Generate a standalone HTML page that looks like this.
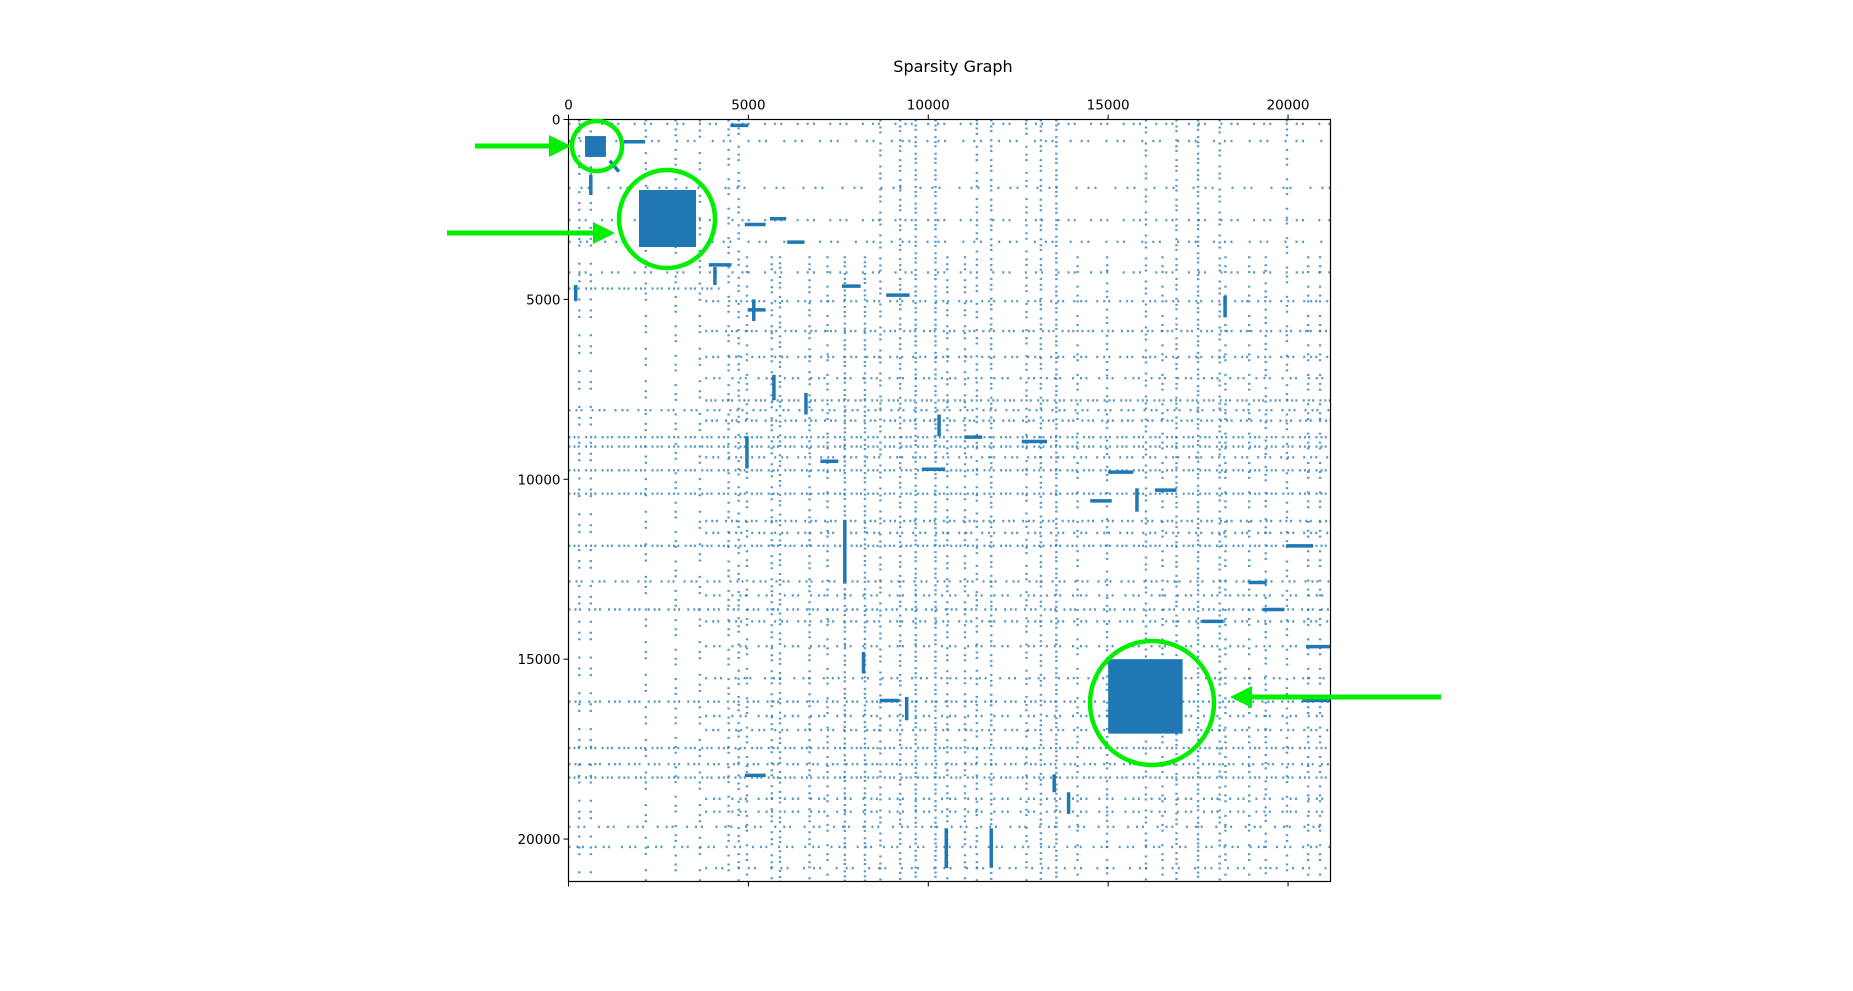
<!DOCTYPE html>
<html><head><meta charset="utf-8"><style>
html,body{margin:0;padding:0;background:#fff;}
svg{display:block;font-family:"DejaVu Sans","Liberation Sans",sans-serif;}
</style></head><body>
<svg id="chart" width="1853" height="991" viewBox="0 0 1853 991" xmlns="http://www.w3.org/2000/svg">
<rect width="1853" height="991" fill="#fff"/>
<text x="953" y="72" font-size="16" text-anchor="middle" fill="#000">Sparsity Graph</text>
<g id="plot"></g>
<g id="axes"></g>
<g id="annot"></g>
</svg>
<script>
// ---- data (matrix indices) ----
const N = 21180;
const xTicks = [0, 5000, 10000, 15000, 20000];
const yTicks = [0, 5000, 10000, 15000, 20000];
const xTickLabels = ["0", "5000", "10000", "15000", "20000"];
const yTickLabels = ["0", "5000", "10000", "15000", "20000"];
// dense blocks [start, end]
const blockX0 = [460, 1960, 15000];
const blockX1 = [1040, 3545, 17070];
const blockY0 = [460, 1960, 15000];
const blockY1 = [1040, 3545, 17070];
// dotted row lines: y, x-start, x-end
const rowY  = [120,600,1900,2800,3400,4250,4700,5050,5880,6600,7190,7810,8080,8370,8830,9090,9390,9750,10400,11160,11490,11850,12840,13230,13620,13950,14640,15530,16180,16580,16970,17470,17920,18290,18880,19240,19660,20220,20810];
const rowX0 = [0,0,0,0,0,0,0,3800,3800,3800,3800,3800,0,3800,0,0,3800,0,0,3800,3800,0,0,3800,0,3800,3800,3800,0,3800,3800,0,0,0,3800,3800,0,0,3800];
const rowX1 = [21180,21180,21180,21180,21180,21180,4200,21180,21180,21180,21180,21180,21180,21180,21180,21180,21180,21180,21180,21180,21180,21180,21180,21180,21180,21180,21180,21180,21180,21180,21180,21180,21180,21180,21180,21180,21180,21180,21180];
const rowW  = [0.5,0.4,0.3,0.5,0.4,0.5,1,0.8,0.9,0.8,0.7,1,0.8,0.9,1,1,0.8,1,1,0.9,0.8,1,0.8,0.7,0.9,0.8,0.7,0.6,0.9,0.7,0.8,1,0.9,1,0.7,0.7,0.6,0.7,0.5];
// dotted column lines: x, y-start, y-end
const colX  = [300,620,2150,2980,3650,4450,4730,4960,5650,5880,6700,7200,7680,8240,8670,9220,9650,10200,10530,11020,11350,11750,12730,13130,13560,14150,14970,16050,16510,16900,17500,18100,18260,18920,19380,19970,20560,20890];
const colY0 = [0,0,0,0,0,0,0,3800,3800,3800,3800,3800,3800,3800,0,0,0,0,3800,3800,0,0,0,0,0,3800,3800,0,3800,0,0,0,3800,3800,3800,0,3800,3800];
const colY1 = [21180,21180,21180,21180,21180,21180,21180,21180,21180,21180,21180,21180,21180,21180,21180,21180,21180,21180,21180,21180,21180,21180,21180,21180,21180,21180,21180,21180,21180,21180,21180,21180,21180,21180,21180,21180,21180,21180];
const colW  = [0.4,0.4,0.5,0.6,0.5,0.6,0.7,0.6,0.8,0.9,0.8,0.6,1,1,0.8,0.9,1,1,0.8,0.8,0.7,0.9,0.7,0.9,1,0.6,0.7,0.8,0.6,0.9,1,0.8,0.6,0.6,0.7,0.6,0.6,0.6];
// thick segments: x0,y0,x1,y1
const segX0 = [4500,1540,3900,4900,5600,6080,620,4070,1150,200,4980,5150,8830,7600,9820,11000,12600,18250,15000,16300,17600,18900,19300,19950,8650,9400,10500,11750,13500,13900,4900,7680,7000,4960,5710,14500,15800,8200,20400,20500,10300,6600];
const segY0 = [165,620,4040,2920,2760,3410,1540,4100,1150,4600,5290,5000,4880,4630,9720,8830,8950,4900,9800,10300,13950,12870,13620,11850,16150,16050,19700,19700,18200,18700,18230,11130,9500,8800,7100,10600,10250,14800,16150,14650,8200,7600];
const segY1 = [165,620,4040,2920,2760,3410,2100,4600,1450,5050,5290,5600,4880,4630,9720,8830,8950,5500,9800,10300,13950,12870,13620,11850,16150,16700,20800,20800,18700,19300,18230,12900,9500,9700,7800,10600,10900,15400,16150,14650,8800,8200];
const segX1 = [5000,2130,4530,5480,6050,6560,620,4070,1400,200,5480,5150,9480,8120,10470,11500,13300,18250,15700,16900,18200,19400,19900,20700,9200,9400,10500,11750,13500,13900,5480,7680,7500,4960,5710,15100,15800,8200,21180,21180,10300,6600];
</script>
<script>
const L = 568.5, T = 119.5, S = 762;
function sx(v){ return L + v / N * S; }
function sy(v){ return T + v / N * S; }
const NS = "http://www.w3.org/2000/svg";
const plot = document.getElementById('plot');
const axes = document.getElementById('axes');
const annot = document.getElementById('annot');
function mk(tag, attrs, parent){
  const e = document.createElementNS(NS, tag);
  for (const k in attrs) e.setAttribute(k, attrs[k]);
  parent.appendChild(e);
  return e;
}
const BLUE = "#1f77b4";
function dash(w){ const g = (3 + 10 * (1 - w)); return `2 ${g.toFixed(1)} 2 ${(g*0.4+1).toFixed(1)} 2 ${(g*1.8).toFixed(1)}`; }
rowY.forEach((y, i) => {
  const e = mk('line', {x1: sx(rowX0[i]), x2: sx(rowX1[i]), y1: sy(y), y2: sy(y), stroke: BLUE, 'stroke-width': 2.4, 'stroke-dasharray': dash(rowW[i]), opacity: 0.75}, plot);
  
  
});
colX.forEach((x, i) => {
  const e = mk('line', {x1: sx(x), x2: sx(x), y1: sy(colY0[i]), y2: sy(colY1[i]), stroke: BLUE, 'stroke-width': 2.4, 'stroke-dasharray': dash(colW[i]), opacity: 0.75}, plot);
  
  
});
segX0.forEach((x, i) => {
  const e = mk('line', {x1: sx(x), y1: sy(segY0[i]), x2: sx(segX1[i]), y2: sy(segY1[i]), stroke: BLUE, 'stroke-width': 3.5}, plot);
  
  
});
blockX0.forEach((x, i) => {
  const e = mk('rect', {x: sx(x), y: sy(blockY0[i]), width: sx(blockX1[i]) - sx(x), height: sy(blockY1[i]) - sy(blockY0[i]), fill: BLUE}, plot);
  
  
});
const fr = mk('rect', {x: L, y: T, width: S, height: S, fill: 'none', stroke: '#000', 'stroke-width': 1.2}, axes);


xTicks.forEach((v, i) => {
  const t1 = mk('line', {x1: sx(v), x2: sx(v), y1: T, y2: T - 5, stroke: '#000'}, axes);
  
  
  const t2 = mk('line', {x1: sx(v), x2: sx(v), y1: T + S, y2: T + S + 5, stroke: '#000'}, axes);
  
  
  const tx = mk('text', {x: sx(v), y: T - 10, 'font-size': 13.5, 'text-anchor': 'middle', fill: '#000'}, axes);
  tx.textContent = xTickLabels[i];
  
  
});
yTicks.forEach((v, i) => {
  const t1 = mk('line', {x1: L, x2: L - 5, y1: sy(v), y2: sy(v), stroke: '#000'}, axes);
  
  
  const tx = mk('text', {x: L - 8, y: sy(v) + 5, 'font-size': 13.5, 'text-anchor': 'end', fill: '#000'}, axes);
  tx.textContent = yTickLabels[i];
  
  
});
const G = "#00ee00";
const circles = [[597, 146, 25, 25], [667, 219, 48, 49], [1152, 703, 62, 62]];
circles.forEach(c => {
  const e = mk('ellipse', {cx: c[0], cy: c[1], rx: c[2], ry: c[3], fill: 'none', stroke: G, 'stroke-width': 4.5}, annot);
  
  
});
const arrows = [[475, 571, 146], [447, 615, 233], [1441, 1230, 697]];
arrows.forEach(a => {
  const dir = Math.sign(a[1] - a[0]);
  const hx = a[1] - dir * 22;
  const g = mk('g', {}, annot);
  
  
  mk('line', {x1: a[0], x2: hx, y1: a[2], y2: a[2], stroke: G, 'stroke-width': 5}, g);
  mk('polygon', {points: `${a[1]},${a[2]} ${hx},${a[2]-11} ${hx},${a[2]+11}`, fill: G}, g);
});
</script>
</body></html>
